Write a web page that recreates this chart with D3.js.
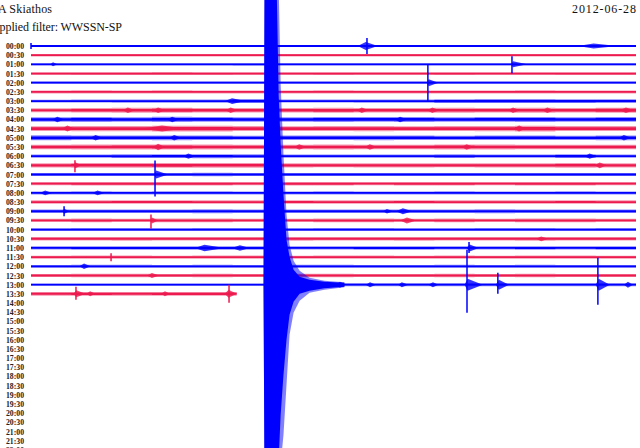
<!DOCTYPE html>
<html><head><meta charset="utf-8">
<script src="https://cdn.jsdelivr.net/npm/d3@7"></script>
<style>html,body{margin:0;padding:0;background:#fff;overflow:hidden}</style>
</head><body><svg id="c" width="640" height="448"></svg>
<script>
// ---------- data ----------
const stationTitle = "A Skiathos";
const filterText = "Applied filter: WWSSN-SP";
const dateText = "2012-06-28";
const timeLabels = ["00:00","00:30","01:00","01:30","02:00","02:30","03:00","03:30","04:00","04:30",
  "05:00","05:30","06:00","06:30","07:00","07:30","08:00","08:30","09:00","09:30","10:00","10:30",
  "11:00","11:30","12:00","12:30","13:00","13:30","14:00","14:30","15:00","15:30","16:00","16:30",
  "17:00","17:30","18:00","18:30","19:00","19:30","20:00","20:30","21:00","21:30","22:00"];
const rowColors = ["#0000ff", "#ec1a4f"]; // even rows blue, odd rows red
// background noise half-amplitude, one value per 2-minute segment
const rowNoise = [
  [1,1,1,1,1,1,1,1,1,1,1,1,1.1,1.1,1.1],
  [1.2,1.2,1.2,1.2,1.2,1.2,1.2,1.2,1.2,1.2,1.2,1.2,1.2,1.2,1.2],
  [1,1,1,1,1,1.1,1,1,1,1,1,1,1,1,1],
  [1.3,1.4,1.4,1.5,1.4,1.3,1.3,1.4,1.3,1.3,1.4,1.3,1.3,1.4,1.4],
  [1.1,1.1,1.1,1.1,1.1,1.1,1.1,1.1,1.1,1.1,1.1,1.1,1.1,1.1,1.1],
  [1.5,1.6,1.5,1.6,1.5,1.5,1.5,1.6,1.5,1.5,1.5,1.5,1.6,1.5,1.5],
  [1.4,1.5,1.6,1.6,1.6,2.0,1.5,1.5,1.6,1.6,1.9,2.0,2.0,1.9,1.8],
  [2.0,2.2,2.4,2.6,2.3,2.2,2.2,2.5,2.2,2.3,2.4,2.3,2.4,2.2,2.6],
  [2.3,2.5,2.3,2.6,2.4,2.3,2.3,2.5,2.4,2.5,2.3,2.4,2.5,2.3,2.4],
  [2.4,2.6,2.7,2.9,2.8,2.5,2.3,2.5,2.6,2.4,2.5,2.6,2.8,2.5,2.5],
  [2.5,2.3,2.2,2.4,2.2,2.0,2.2,2.3,2.4,2.2,2.1,2.2,2.2,2.1,2.4],
  [2.3,2.4,2.5,2.6,2.4,2.3,2.3,2.4,2.2,2.3,2.5,2.4,2.2,2.3,2.3],
  [1.6,1.7,1.8,1.9,2.0,1.8,1.6,1.7,1.7,1.6,1.8,1.7,1.7,1.9,1.7],
  [2.2,2.3,2.3,2.4,2.3,2.3,2.2,2.0,2.1,2.2,2.0,2.1,2.2,2.3,2.2],
  [1.5,1.5,1.6,1.6,1.7,1.6,1.5,1.5,1.5,1.6,1.5,1.5,1.5,1.5,1.5],
  [1.6,1.7,1.7,1.8,1.7,1.6,1.7,1.7,1.6,1.7,1.7,1.6,1.7,1.7,1.6],
  [1.5,1.6,1.5,1.6,1.6,1.5,1.5,1.6,1.5,1.5,1.6,1.5,1.5,1.6,1.5],
  [1.7,1.7,1.8,1.8,1.7,1.7,1.8,1.7,1.7,1.8,1.7,1.7,1.7,1.8,1.7],
  [1.7,1.8,1.8,1.8,1.9,1.8,1.7,1.8,1.8,1.7,1.8,1.9,1.8,1.8,1.7],
  [1.7,1.8,1.7,1.8,1.8,1.7,1.7,1.8,1.8,1.7,1.8,1.7,1.8,1.8,1.7],
  [1.4,1.5,1.5,1.4,1.5,1.5,1.4,1.5,1.5,1.4,1.4,1.5,1.5,1.4,1.5],
  [1.8,1.8,1.9,1.8,1.8,1.8,1.9,1.8,1.8,1.9,1.8,1.8,1.9,1.8,1.8],
  [1.6,1.7,1.7,1.8,1.8,1.7,1.6,1.6,1.7,1.7,1.6,1.6,1.7,1.6,1.7],
  [1.5,1.6,1.6,1.5,1.6,1.6,1.5,1.6,1.6,1.5,1.6,1.5,1.6,1.6,1.5],
  [1.4,1.5,1.5,1.4,1.5,1.4,1.5,1.5,1.4,1.4,1.5,1.4,1.5,1.4,1.4],
  [1.6,1.7,1.7,1.6,1.7,1.6,1.7,1.7,1.6,1.6,1.7,1.6,1.7,1.6,1.6],
  [1.0,1.0,1.0,1.0,1.0,1.0,1.5,1.5,1.5,1.5,1.5,1.5,1.5,1.5,1.5],
  [1.8,1.9,1.8,1.9,1.9,1.8]
];
const lastRowEndMin = 10.2;
// [row, minute, up, down]
const spikes = [
  [0, 0, 3, 3], [0, 16.66, 8, 8], [2, 23.85, 8, 9], [4, 19.68, 18, 19],
  [13, 2.18, 5, 7], [14, 6.15, 14, 22], [18, 1.64, 5, 5], [19, 5.95, 6, 8],
  [22, 21.72, 6, 5], [23, 3.97, 4, 4], [26, 21.62, 35, 28], [26, 23.15, 12, 9],
  [26, 28.11, 27, 20], [27, 2.23, 7, 6], [27, 9.82, 9, 9]
];
// [row, startMin, peakMin, endMin, amp]
const bursts = [
  [0, 16.2, 16.6, 17.2, 4], [0, 27.1, 27.9, 29.1, 2.6],
  [2, 0.95, 1.09, 1.3, 2.0], [2, 23.8, 23.9, 24.6, 3],
  [4, 19.62, 19.72, 20.2, 3.5],
  [6, 9.62, 9.97, 10.61, 2.8],
  [7, 4.55, 4.8, 5.15, 2.8], [7, 6.05, 6.3, 6.65, 2.8], [7, 9.65, 9.9, 10.25, 2.8], [7, 16.15, 16.4, 16.75, 2.8],
  [7, 19.65, 19.9, 20.25, 2.8], [7, 23.65, 23.9, 24.25, 2.8], [7, 25.35, 25.6, 25.95, 2.8], [7, 29.2, 29.5, 29.9, 2.8],
  [8, 1.05, 1.3, 1.65, 2.8], [8, 6.75, 7.0, 7.35, 2.8], [8, 18.05, 18.3, 18.65, 2.8],
  [9, 1.55, 1.8, 2.15, 3], [9, 5.5, 6.5, 7.6, 3], [9, 23.95, 24.2, 24.55, 3],
  [10, 2.95, 3.2, 3.55, 2.8], [10, 6.85, 7.1, 7.45, 2.8], [10, 29.15, 29.4, 29.75, 2.8],
  [11, 6.05, 6.3, 6.65, 3.2], [11, 13.05, 13.3, 13.65, 2.8], [11, 16.55, 16.8, 17.15, 2.8], [11, 21.35, 21.6, 21.95, 2.8],
  [12, 7.55, 7.8, 8.15, 2.6], [12, 27.45, 27.7, 28.05, 2.6],
  [13, 2.1, 2.2, 2.5, 3], [13, 27.95, 28.2, 28.55, 2.8],
  [14, 6.1, 6.2, 6.8, 4],
  [16, 0.45, 0.7, 1.05, 2.3], [16, 3.05, 3.3, 3.65, 2.3],
  [18, 1.55, 1.65, 1.9, 2.5], [18, 17.45, 17.65, 17.95, 2.3], [18, 18.1, 18.44, 18.9, 3],
  [19, 5.9, 6.0, 6.3, 3], [19, 18.3, 18.64, 19.1, 3],
  [21, 25.05, 25.3, 25.65, 2.4],
  [22, 8.13, 8.6, 9.6, 3.3], [22, 9.95, 10.36, 10.85, 2.8], [22, 21.6, 21.75, 22.2, 3.5],
  [24, 2.4, 2.63, 2.95, 2.8],
  [25, 5.75, 6.0, 6.35, 2.4],
  [26, 14.5, 14.72, 15.0, 3], [26, 15.1, 15.32, 15.6, 3], [26, 16.6, 16.81, 17.1, 2.5],
  [26, 18.2, 18.39, 18.7, 2.5], [26, 19.7, 19.93, 20.2, 2.5], [26, 21.5, 21.65, 22.4, 6],
  [26, 23.05, 23.2, 23.7, 5], [26, 28.0, 28.15, 28.7, 6], [26, 29.4, 29.6, 29.85, 3],
  [27, 2.1, 2.25, 2.7, 3.5], [27, 2.75, 2.93, 3.2, 2.5], [27, 6.45, 6.64, 6.9, 2.5], [27, 9.6, 9.8, 10.2, 4]
];
const quakeRow = 26;
// [minute, up, down]
const quakeCore = [
  [11.53, 1, 1], [11.58, 300, 200], [12.18, 300, 200], [12.28, 190, 175], [12.38, 140, 130],
  [12.52, 90, 90], [12.67, 45, 55], [12.82, 28, 30], [13.02, 15, 17], [13.32, 8, 9],
  [13.81, 5, 6], [14.55, 3, 3.5], [15.54, 2, 2]
];
const quakeHalo = [
  [11.53, 1, 1], [11.58, 300, 200], [12.28, 300, 200], [12.38, 200, 180], [12.52, 130, 150],
  [12.67, 70, 100], [12.82, 40, 50], [13.02, 24, 28], [13.32, 14, 16], [13.81, 7, 8],
  [14.55, 4, 5], [15.54, 2.5, 2.5]
];

// ---------- drawing ----------
const svg = d3.select("#c");
const x = d3.scaleLinear().domain([0, 30]).range([31, 636]);
const y = d3.scaleLinear().domain([0, 44]).range([46, 46 + 44 * 9.18]);
const amp = d3.scaleLinear().domain([0, 1]).range([0, 1]);

svg.append("rect").attr("width", 640).attr("height", 448).attr("fill", "#fff");

const textFont = "'Liberation Serif', 'DejaVu Serif', serif";
svg.append("text").attr("x", -2).attr("y", 13).attr("font-family", textFont)
  .attr("font-size", 12).attr("fill", "#111").attr("textLength", 54).text(stationTitle);
svg.append("text").attr("x", -9).attr("y", 31).attr("font-family", textFont)
  .attr("font-size", 12).attr("fill", "#111").attr("textLength", 131).text(filterText);
svg.append("text").attr("x", 572).attr("y", 13).attr("font-family", textFont)
  .attr("font-size", 12).attr("fill", "#111").attr("textLength", 64).text(dateText);

svg.append("g").selectAll("text").data(timeLabels).join("text")
  .attr("x", 6).attr("y", (d, i) => y(i) + 3)
  .attr("font-family", textFont).attr("font-size", 8).attr("font-weight", "bold")
  .attr("fill", "#222").attr("textLength", 18).attr("lengthAdjust", "spacingAndGlyphs")
  .text(d => d);

const traces = svg.append("g");
rowNoise.forEach((seg, r) => {
  const col = rowColors[r % 2];
  const end = r === rowNoise.length - 1 ? lastRowEndMin : 30;
  const pts = seg.map((v, k) => [k * 2, v]);
  pts.push([end, seg[seg.length - 1]]);
  const y0 = y(r);
  const outer = d3.area().curve(d3.curveStepAfter).x(d => x(d[0]))
    .y0(d => y0 + amp(d[1])).y1(d => y0 - amp(d[1]));
  const inner = d3.area().curve(d3.curveStepAfter).x(d => x(d[0]))
    .y0(d => y0 + amp(Math.max(0.9, d[1] * 0.55))).y1(d => y0 - amp(Math.max(0.9, d[1] * 0.55)));
  traces.append("path").attr("d", outer(pts)).attr("fill", col).attr("opacity", 0.45);
  traces.append("path").attr("d", inner(pts)).attr("fill", col);
});

const burstArea = d3.area().x(d => x(d[0])).y0(d => d[1] + amp(d[2])).y1(d => d[1] - amp(d[2]));
svg.append("g").selectAll("path").data(bursts).join("path")
  .attr("d", b => burstArea([[b[1], y(b[0]), 0], [b[2], y(b[0]), b[4]], [b[3], y(b[0]), 0]]))
  .attr("fill", b => rowColors[b[0] % 2]).attr("opacity", 0.8);

svg.append("g").selectAll("line").data(spikes).join("line")
  .attr("x1", s => x(s[1])).attr("x2", s => x(s[1]))
  .attr("y1", s => y(s[0]) - amp(s[2])).attr("y2", s => y(s[0]) + amp(s[3]))
  .attr("stroke", s => rowColors[s[0] % 2]).attr("stroke-width", 1.5);

const qy = y(quakeRow);
const qArea = d3.area().x(d => x(d[0])).y0(d => qy + amp(d[2])).y1(d => qy - amp(d[1]));
svg.append("path").attr("d", qArea(quakeHalo)).attr("fill", rowColors[0]).attr("opacity", 0.5);
svg.append("path").attr("d", qArea(quakeCore)).attr("fill", rowColors[0]);
</script></body></html>
